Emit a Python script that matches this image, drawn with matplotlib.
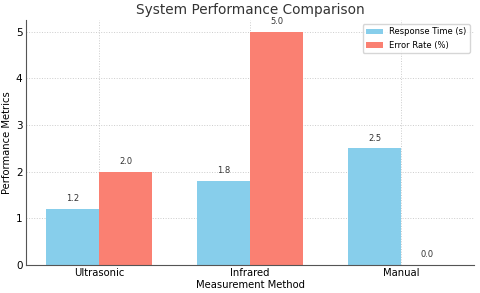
import numpy as np
import matplotlib
matplotlib.use("Agg")
import matplotlib.pyplot as plt

methods = ['Ultrasonic', 'Infrared', 'Manual']
response_time = [1.2, 1.8, 2.5]
error_rate = [2.0, 5.0, 0.0]

x = np.arange(len(methods))
w = 0.35

fig, ax = plt.subplots(figsize=(4.8, 2.93), dpi=100)
b1 = ax.bar(x - w/2, response_time, w, color='#87CEEB', label='Response Time (s)')
b2 = ax.bar(x + w/2, error_rate, w, color='#FA8072', label='Error Rate (%)')

for bars in (b1, b2):
    for b in bars:
        h = b.get_height()
        ax.annotate(f'{h:.1f}', (b.get_x() + b.get_width()/2, h),
                    xytext=(0, 4), textcoords='offset points',
                    ha='center', va='bottom', fontsize=6, color='#333333')

ax.set_xticks(x)
ax.set_xticklabels(methods, fontsize=7.2)
ax.tick_params(axis='y', labelsize=7.5)
ax.tick_params(length=0, pad=2.5)
ax.set_xlabel('Measurement Method', fontsize=7.2, labelpad=1.5)
ax.set_ylabel('Performance Metrics', fontsize=7.2, labelpad=3)
ax.set_title('System Performance Comparison', fontsize=9.8, color='#333333', pad=4)
ax.grid(True, linestyle=':', color='#cccccc', linewidth=0.7)
ax.set_axisbelow(True)
for s in ['top', 'right']:
    ax.spines[s].set_visible(False)
for s in ['left', 'bottom']:
    ax.spines[s].set_color('#555555')
ax.legend(fontsize=6, loc='upper right')

fig.subplots_adjust(left=0.054, right=0.988, top=0.932, bottom=0.096)
fig.savefig('out.png', dpi=100)
